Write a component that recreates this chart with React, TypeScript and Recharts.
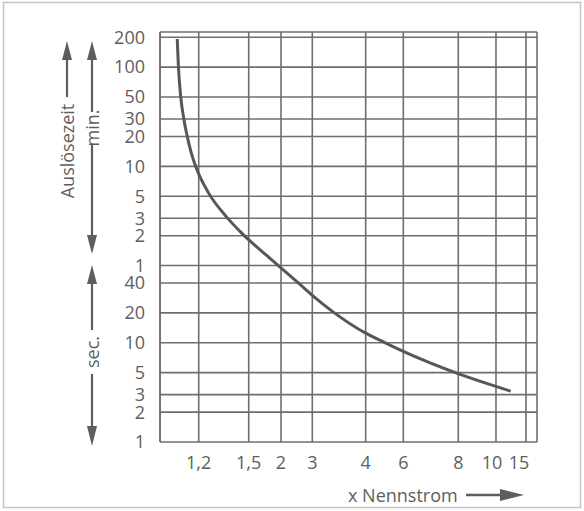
import { CartesianGrid, Line, LineChart, XAxis, YAxis } from "recharts";

// Auslösekennlinie: x-Achse ist ein unregelmäßiges Raster (Vielfaches des Nennstroms),
// y-Achse logarithmisch in Sekunden (oben min., unten sec.)
const xTickValues = [1, 1.2, 1.5, 2, 3, 4, 6, 8, 10, 15];
const xTickLabels = ["", "1,2", "1,5", "2", "3", "4", "6", "8", "10", "15"];
// Rasterstufen der x-Achse (Achse läuft von 0 bis 10)
const xGridStops = [0, 1.027, 2.353, 3.21, 4.04, 5.456, 6.454, 7.912, 8.912, 9.708];

const yTickSeconds = [1, 2, 3, 5, 10, 20, 40, 60, 120, 180, 300, 600, 1200, 1800, 3000, 6000, 12000];
const yTickLabels = ["1", "2", "3", "5", "10", "20", "40", "1", "2", "3", "5", "10", "20", "30", "50", "100", "200"];

const curveMultiple = [
  1.089, 1.095, 1.107, 1.124, 1.141, 1.16, 1.186, 1.258, 1.368, 1.458, 1.83, 2.607, 3, 3.388, 4, 4.947, 6, 7.942, 10,
  12.45,
];
const curveSeconds = [
  11520, 6160, 3022, 1761, 1195, 838, 588, 326, 184.5, 127.3, 71, 38.7, 30.1, 20.5, 12.5, 10.2, 8.2, 4.95, 3.63, 3.25,
];

const ink = "#5e5e5e";
const gridInk = "#6e6e6e";
const font = "'Open Sans', 'DejaVu Sans', sans-serif";

function toGrid(m: number) {
  for (let i = 0; i < xTickValues.length - 1; i++) {
    const a = xTickValues[i];
    const b = xTickValues[i + 1];
    if (m <= b || i === xTickValues.length - 2) {
      return xGridStops[i] + ((m - a) / (b - a)) * (xGridStops[i + 1] - xGridStops[i]);
    }
  }
  return 0;
}

const data = curveMultiple.map((m, i) => ({ pos: toGrid(m), t: curveSeconds[i] }));

const xShift: Record<string, number> = { "10": -4, "15": -7 };

function XTick(props: any) {
  const { x, y, payload } = props;
  const idx = xGridStops.indexOf(payload.value);
  const label = xTickLabels[idx] ?? "";
  return (
    <text x={x + (xShift[label] ?? 0)} y={y} dy="0.71em" textAnchor="middle" fill={ink} fontSize={18} fontFamily={font}>
      {label}
    </text>
  );
}

function yLabel(v: number) {
  const i = yTickSeconds.indexOf(v);
  return i >= 0 ? yTickLabels[i] : "";
}

function Arrowhead({ x, tip, base }: { x: number; tip: number; base: number }) {
  return <polygon points={`${x},${tip} ${x - 5},${base} ${x + 5},${base}`} fill={ink} />;
}

function Decorations() {
  return (
    <svg width={584} height={511} style={{ position: "absolute", left: 0, top: 0, pointerEvents: "none" }}>
      <rect x={3.5} y={2.5} width={577} height={505} fill="none" stroke="#c4c4c4" strokeWidth={1.5} />
      {/* Auslösezeit */}
      <Arrowhead x={67} tip={41} base={60} />
      <line x1={67} y1={59} x2={67} y2={97} stroke={ink} strokeWidth={2.2} />
      <text x={67} y={151} transform="rotate(-90 67 151)" textAnchor="middle" dominantBaseline="central" fill={ink} fontSize={18} fontFamily={font}>
        Auslösezeit
      </text>
      {/* min. */}
      <Arrowhead x={92} tip={41} base={60} />
      <line x1={92} y1={59} x2={92} y2={112} stroke={ink} strokeWidth={2.2} />
      <text x={92} y={128} transform="rotate(-90 92 128)" textAnchor="middle" dominantBaseline="central" fill={ink} fontSize={18} fontFamily={font}>
        min.
      </text>
      <line x1={92} y1={144} x2={92} y2={236} stroke={ink} strokeWidth={2.2} />
      <Arrowhead x={92} tip={254} base={235} />
      {/* sec. */}
      <Arrowhead x={92} tip={265} base={284} />
      <line x1={92} y1={283} x2={92} y2={330} stroke={ink} strokeWidth={2.2} />
      <text x={92} y={352} transform="rotate(-90 92 352)" textAnchor="middle" dominantBaseline="central" fill={ink} fontSize={18} fontFamily={font}>
        sec.
      </text>
      <line x1={92} y1={374} x2={92} y2={427} stroke={ink} strokeWidth={2.2} />
      <Arrowhead x={92} tip={446} base={426} />
      {/* x Nennstrom */}
      <text x={348} y={502} fill={ink} fontSize={18} fontFamily={font}>
        x Nennstrom
      </text>
      <line x1={466} y1={495} x2={503} y2={495} stroke={ink} strokeWidth={2.5} />
      <polygon points="500,489 524,495 500,501" fill={ink} />
    </svg>
  );
}

export default function App() {
  return (
    <div style={{ position: "absolute", left: 0, top: 0, width: 584, height: 511, background: "#fff" }}>
      <LineChart width={584} height={511} data={data} margin={{ top: 32, right: 47, bottom: 39, left: 100 }}>
        <CartesianGrid stroke={gridInk} strokeWidth={1.6} />
        <XAxis
          dataKey="pos"
          type="number"
          domain={[0, 10]}
          ticks={xGridStops.slice(1)}
          interval={0}
          tick={<XTick />}
          tickSize={0}
          tickMargin={14}
          axisLine={false}
          height={30}
          allowDataOverflow
        />
        <YAxis
          type="number"
          scale="log"
          domain={[1, 13550]}
          ticks={yTickSeconds}
          interval={0}
          tickFormatter={yLabel}
          tick={{ fill: ink, fontSize: 18, fontFamily: font }}
          tickSize={0}
          tickMargin={15}
          axisLine={{ stroke: gridInk, strokeWidth: 1.6 }}
          width={60}
          allowDataOverflow
        />
        <Line
          dataKey="t"
          type="monotone"
          stroke="#575757"
          strokeWidth={3}
          dot={false}
          activeDot={false}
          isAnimationActive={false}
        />
      </LineChart>
      <Decorations />
    </div>
  );
}
